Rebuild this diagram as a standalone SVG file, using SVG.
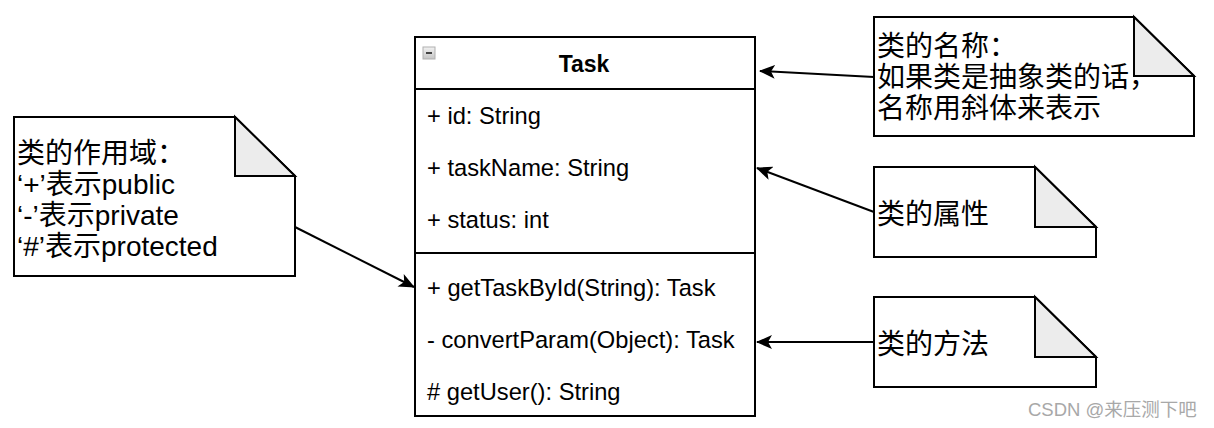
<svg xmlns="http://www.w3.org/2000/svg" width="1214" height="428" viewBox="0 0 1214 428">
<style>
.ln{fill:none;stroke:#000;stroke-width:2}
.box{fill:#fff;stroke:#000;stroke-width:2}
.fold{fill:#ececec;stroke:#000;stroke-width:2;stroke-linejoin:miter}
.t{font-family:"Liberation Sans",Arial,sans-serif;font-size:23.7px;fill:#000}
.tb{font-family:"Liberation Sans",Arial,sans-serif;font-size:23px;font-weight:bold;fill:#000}
.n{font-family:"Liberation Sans","Noto Sans CJK SC",sans-serif;font-size:28px;fill:#000}
.wm{font-family:"Liberation Sans","Noto Sans CJK SC",sans-serif;font-size:18.5px;fill:#a8a8a8}
</style>
<defs>
<marker id="arr" viewBox="0 0 16 14" refX="15" refY="7" markerWidth="16" markerHeight="14" orient="auto" markerUnits="userSpaceOnUse">
<path d="M0,0 L16,7 L0,14 L4,7 z" fill="#000"/>
</marker>
<linearGradient id="ig" x1="0" y1="0" x2="0" y2="1">
<stop offset="0" stop-color="#f2f2f2"/><stop offset="1" stop-color="#c4c4c4"/>
</linearGradient>
</defs>
<g id="task">
<rect class="box" x="415" y="37" width="340" height="379"/>
<line class="ln" x1="415" y1="89" x2="755" y2="89"/>
<line class="ln" x1="415" y1="253" x2="755" y2="253"/>
<rect x="423" y="47" width="12" height="12" fill="url(#ig)" stroke="#b0b0b0" stroke-width="1"/>
<line x1="426" y1="53" x2="432" y2="53" stroke="#444" stroke-width="2"/>
<text class="tb" x="584" y="72" text-anchor="middle">Task</text>
<text class="t" x="427" y="124">+ id: String</text>
<text class="t" x="427" y="176">+ taskName: String</text>
<text class="t" x="427" y="228">+ status: int</text>
<text class="t" x="427" y="296">+ getTaskById(String): Task</text>
<text class="t" x="427" y="348">- convertParam(Object): Task</text>
<text class="t" x="427" y="400"># getUser(): String</text>
</g>
<g id="note-name">
<path class="box" d="M874,17 L1134,17 L1194,76 L1194,136 L874,136 Z"/>
<path class="fold" d="M1134,17 L1134,76 L1194,76 Z"/>
<text class="n" x="877" y="56">类的名称：</text>
<text class="n" x="877" y="87">如果类是抽象类的话，</text>
<text class="n" x="877" y="118">名称用斜体来表示</text>
</g>
<g id="note-scope">
<path class="box" d="M14,117 L235,117 L295,176 L295,276 L14,276 Z"/>
<path class="fold" d="M235,117 L235,176 L295,176 Z"/>
<text class="n" x="17" y="163">类的作用域：</text>
<text class="n" x="17" y="194">‘+’表示public</text>
<text class="n" x="17" y="225">‘-’表示private</text>
<text class="n" x="17" y="256">‘#’表示protected</text>
</g>
<g id="note-attr">
<path class="box" d="M874,167 L1035,167 L1096,227 L1096,257 L874,257 Z"/>
<path class="fold" d="M1035,167 L1035,227 L1096,227 Z"/>
<text class="n" x="877" y="224">类的属性</text>
</g>
<g id="note-method">
<path class="box" d="M874,297 L1035,297 L1096,357 L1096,387 L874,387 Z"/>
<path class="fold" d="M1035,297 L1035,357 L1096,357 Z"/>
<text class="n" x="877" y="354">类的方法</text>
</g>
<g id="connectors">
<line class="ln" x1="874" y1="77" x2="760" y2="71" marker-end="url(#arr)"/>
<line class="ln" x1="874" y1="212" x2="757" y2="168" marker-end="url(#arr)"/>
<line class="ln" x1="874" y1="342" x2="757" y2="342" marker-end="url(#arr)"/>
<line class="ln" x1="295" y1="227" x2="414" y2="287" marker-end="url(#arr)"/>
</g>
<text class="wm" x="1028" y="416">CSDN @来压测下吧</text>
</svg>
